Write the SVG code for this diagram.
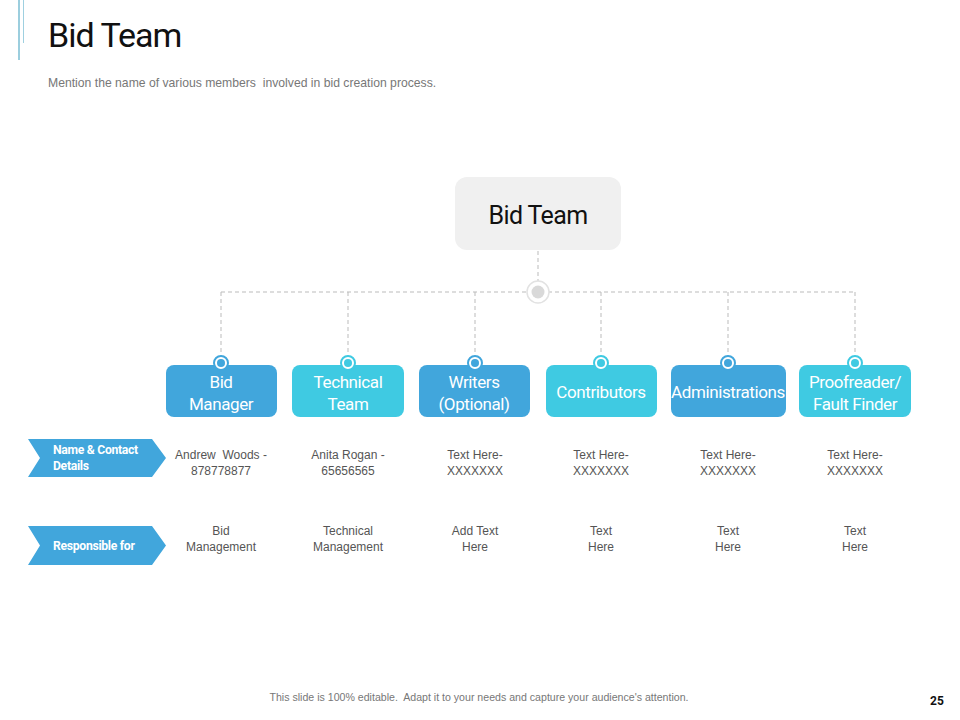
<svg xmlns="http://www.w3.org/2000/svg" width="960" height="720" viewBox="0 0 960 720">
<style>
.title{font-family:Roboto,"Liberation Sans",sans-serif;fill:#111}
.sub{font-family:"Liberation Sans",Arial,sans-serif;font-size:12.2px;fill:#777}
.node{font-family:Roboto,"Liberation Sans",sans-serif;font-size:17px;fill:#fff;text-anchor:middle;letter-spacing:-0.4px}
.cell{font-family:"Liberation Sans",Arial,sans-serif;font-size:12px;fill:#555;text-anchor:middle}
.tag{font-family:Roboto,"Liberation Sans",sans-serif;font-size:12.2px;font-weight:bold;fill:#fff;letter-spacing:-0.3px}
.dash{stroke:#bbb;stroke-width:1;stroke-dasharray:4 3;fill:none}
.blue{fill:#41a6dc}
.cyan{fill:#3fcae2}
.ring{fill:#fff;stroke-width:2}
</style>
<rect width="960" height="720" fill="#fff"/>
<g id="header">
<line x1="19" y1="0" x2="19" y2="60" stroke="#5aaec8" stroke-width="1.2"/>
<line x1="23.5" y1="0" x2="23.5" y2="43" stroke="#9fd0e0" stroke-width="1"/>
<text class="title" x="48" y="47" font-size="34" letter-spacing="-1">Bid Team</text>
<text class="sub" x="48" y="87">Mention the name of various members&#160; involved in bid creation process.</text>
</g>
<g id="connectors">
<line class="dash" x1="538" y1="251" x2="538" y2="282"/>
<line class="dash" x1="221" y1="292" x2="528" y2="292"/>
<line class="dash" x1="548" y1="292" x2="855" y2="292"/>
<line class="dash" x1="221" y1="292" x2="221" y2="356"/>
<line class="dash" x1="348" y1="292" x2="348" y2="356"/>
<line class="dash" x1="475" y1="292" x2="475" y2="356"/>
<line class="dash" x1="601" y1="292" x2="601" y2="356"/>
<line class="dash" x1="728" y1="292" x2="728" y2="356"/>
<line class="dash" x1="855" y1="292" x2="855" y2="356"/>
<circle cx="538" cy="292" r="11" fill="#fff" stroke="#e2e2e2" stroke-width="1.5"/>
<circle cx="538" cy="292" r="6.5" fill="#d9d9d9"/>
</g>
<g id="root">
<rect x="455" y="177" width="166" height="73" rx="12" fill="#f0f0f0"/>
<text class="title" x="538" y="224" font-size="25" letter-spacing="-0.6" text-anchor="middle">Bid Team</text>
</g>
<g id="bid-manager">
<rect class="blue" x="166" y="365" width="111" height="52" rx="8"/>
<circle class="ring" cx="221" cy="363" r="7" stroke="#41a6dc"/>
<circle class="blue" cx="221" cy="363" r="4"/>
<text class="node" x="221" y="388">Bid</text>
<text class="node" x="221" y="410">Manager</text>
</g>
<g id="technical-team">
<rect class="cyan" x="292" y="365" width="112" height="52" rx="8"/>
<circle class="ring" cx="348" cy="363" r="7" stroke="#3fcae2"/>
<circle class="cyan" cx="348" cy="363" r="4"/>
<text class="node" x="348" y="388">Technical</text>
<text class="node" x="348" y="410">Team</text>
</g>
<g id="writers">
<rect class="blue" x="419" y="365" width="111" height="52" rx="8"/>
<circle class="ring" cx="475" cy="363" r="7" stroke="#41a6dc"/>
<circle class="blue" cx="475" cy="363" r="4"/>
<text class="node" x="474" y="388">Writers</text>
<text class="node" x="474" y="410">(Optional)</text>
</g>
<g id="contributors">
<rect class="cyan" x="546" y="365" width="111" height="52" rx="8"/>
<circle class="ring" cx="601" cy="363" r="7" stroke="#3fcae2"/>
<circle class="cyan" cx="601" cy="363" r="4"/>
<text class="node" x="601" y="398">Contributors</text>
</g>
<g id="administrations">
<rect class="blue" x="671" y="365" width="115" height="52" rx="8"/>
<circle class="ring" cx="728" cy="363" r="7" stroke="#41a6dc"/>
<circle class="blue" cx="728" cy="363" r="4"/>
<text class="node" x="728" y="398">Administrations</text>
</g>
<g id="proofreader">
<rect class="cyan" x="799" y="365" width="112" height="52" rx="8"/>
<circle class="ring" cx="855" cy="363" r="7" stroke="#3fcae2"/>
<circle class="cyan" cx="855" cy="363" r="4"/>
<text class="node" x="855" y="388">Proofreader/</text>
<text class="node" x="855" y="410">Fault Finder</text>
</g>
<g id="row-name">
<polygon class="blue" points="28,439 152,439 166,458 152,477 28,477 40,458"/>
<text class="tag" x="53" y="454">Name &amp; Contact</text>
<text class="tag" x="53" y="470">Details</text>
<text class="cell" x="221" y="459">Andrew&#160; Woods -</text>
<text class="cell" x="221" y="475">878778877</text>
<text class="cell" x="348" y="459">Anita Rogan -</text>
<text class="cell" x="348" y="475">65656565</text>
<text class="cell" x="475" y="459">Text Here-</text>
<text class="cell" x="475" y="475">XXXXXXX</text>
<text class="cell" x="601" y="459">Text Here-</text>
<text class="cell" x="601" y="475">XXXXXXX</text>
<text class="cell" x="728" y="459">Text Here-</text>
<text class="cell" x="728" y="475">XXXXXXX</text>
<text class="cell" x="855" y="459">Text Here-</text>
<text class="cell" x="855" y="475">XXXXXXX</text>
</g>
<g id="row-resp">
<polygon class="blue" points="28,526 152,526 166,545.5 152,565 28,565 40,545.5"/>
<text class="tag" x="53" y="550">Responsible for</text>
<text class="cell" x="221" y="535">Bid</text>
<text class="cell" x="221" y="551">Management</text>
<text class="cell" x="348" y="535">Technical</text>
<text class="cell" x="348" y="551">Management</text>
<text class="cell" x="475" y="535">Add Text</text>
<text class="cell" x="475" y="551">Here</text>
<text class="cell" x="601" y="535">Text</text>
<text class="cell" x="601" y="551">Here</text>
<text class="cell" x="728" y="535">Text</text>
<text class="cell" x="728" y="551">Here</text>
<text class="cell" x="855" y="535">Text</text>
<text class="cell" x="855" y="551">Here</text>
</g>
<g id="footer">
<text x="479" y="701" font-family="'Liberation Sans',Arial,sans-serif" font-size="10.6" fill="#777" text-anchor="middle">This slide is 100% editable.&#160; Adapt it to your needs and capture your audience's attention.</text>
<text x="937" y="705" font-family="Roboto,'Liberation Sans',sans-serif" font-size="12" font-weight="bold" fill="#111" text-anchor="middle">25</text>
</g>
</svg>
